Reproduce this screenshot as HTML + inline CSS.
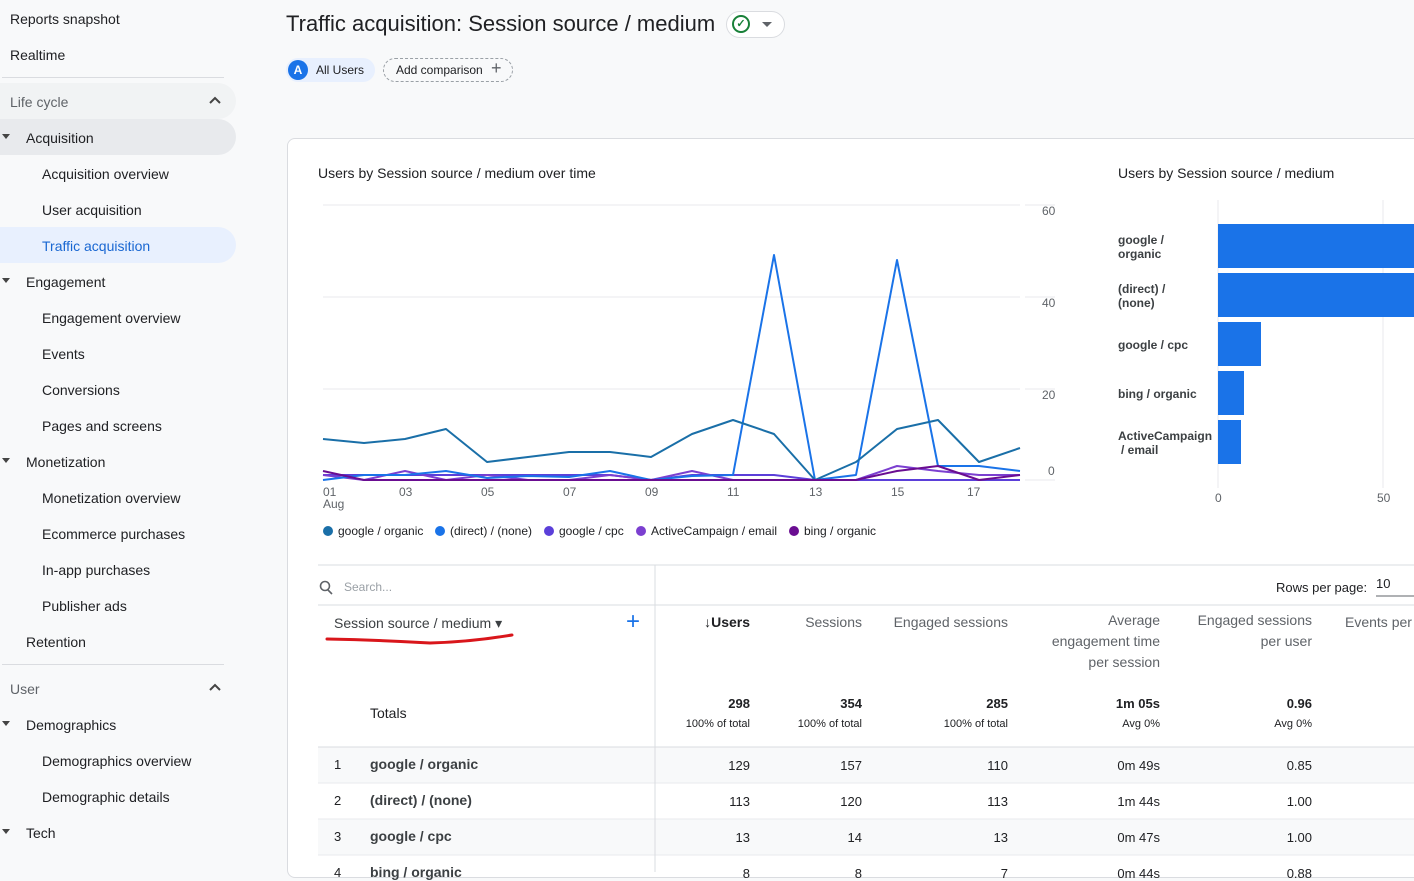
<!DOCTYPE html>
<html><head><meta charset="utf-8"><style>
*{margin:0;padding:0;box-sizing:border-box}
body{width:1414px;height:872px;overflow:hidden;background:#f8f9fa;font-family:"Liberation Sans",sans-serif;color:#202124;position:relative}
.a{position:absolute;white-space:nowrap}
.side{position:absolute;left:0;top:0;width:240px;height:872px;background:transparent}
.si{position:absolute;font-size:14px;color:#202124}
.tri{position:absolute;width:0;height:0;border-left:4px solid transparent;border-right:4px solid transparent;border-top:5px solid #444}
.card{position:absolute;left:287px;top:138px;width:1140px;height:740px;background:#fff;border:1px solid #dadce0;border-radius:8px}
.th{font-size:14px;color:#5f6368;text-align:right;line-height:21px}
.num{font-size:13px;text-align:right}
.sub{font-size:11px;text-align:right;color:#202124}
</style></head><body>
<div class="side">
<div class="si" style="left:10px;top:11px">Reports snapshot</div>
<div class="si" style="left:10px;top:47px">Realtime</div>
<div class="a" style="left:2px;top:77px;width:222px;height:1px;background:#dadce0"></div>
<div class="a" style="left:0;top:83px;width:236px;height:36px;background:#f1f3f4;border-radius:0 18px 18px 0"></div>
<div class="si" style="left:10px;top:94px;color:#5f6368">Life cycle</div>
<svg class="a" style="left:208px;top:95px" width="14" height="10"><polyline points="2,8 7,3 12,8" fill="none" stroke="#444" stroke-width="2"/></svg>
<div class="a" style="left:0;top:119px;width:236px;height:36px;background:#e8eaed;border-radius:0 18px 18px 0"></div>
<div class="tri" style="left:2px;top:134px"></div>
<div class="si" style="left:26px;top:130px">Acquisition</div>
<div class="si" style="left:42px;top:166px">Acquisition overview</div>
<div class="si" style="left:42px;top:202px">User acquisition</div>
<div class="a" style="left:0;top:227px;width:236px;height:36px;background:#e8f0fe;border-radius:0 18px 18px 0"></div>
<div class="si" style="left:42px;top:238px;color:#1967d2">Traffic acquisition</div>
<div class="tri" style="left:2px;top:278px"></div>
<div class="si" style="left:26px;top:274px">Engagement</div>
<div class="si" style="left:42px;top:310px">Engagement overview</div>
<div class="si" style="left:42px;top:346px">Events</div>
<div class="si" style="left:42px;top:382px">Conversions</div>
<div class="si" style="left:42px;top:418px">Pages and screens</div>
<div class="tri" style="left:2px;top:458px"></div>
<div class="si" style="left:26px;top:454px">Monetization</div>
<div class="si" style="left:42px;top:490px">Monetization overview</div>
<div class="si" style="left:42px;top:526px">Ecommerce purchases</div>
<div class="si" style="left:42px;top:562px">In-app purchases</div>
<div class="si" style="left:42px;top:598px">Publisher ads</div>
<div class="si" style="left:26px;top:634px">Retention</div>
<div class="a" style="left:2px;top:664px;width:222px;height:1px;background:#dadce0"></div>
<div class="si" style="left:10px;top:681px;color:#5f6368">User</div>
<svg class="a" style="left:208px;top:682px" width="14" height="10"><polyline points="2,8 7,3 12,8" fill="none" stroke="#444" stroke-width="2"/></svg>
<div class="tri" style="left:2px;top:721px"></div>
<div class="si" style="left:26px;top:717px">Demographics</div>
<div class="si" style="left:42px;top:753px">Demographics overview</div>
<div class="si" style="left:42px;top:789px">Demographic details</div>
<div class="tri" style="left:2px;top:829px"></div>
<div class="si" style="left:26px;top:825px">Tech</div>
</div>

<div class="a" style="left:286px;top:11px;font-size:22px;color:#202124">Traffic acquisition: Session source / medium</div>
<div class="a" style="left:726px;top:11px;width:59px;height:27px;border:1px solid #dadce0;border-radius:14px;background:#fff"></div>
<div class="a" style="left:732px;top:15px;width:18px;height:18px;border:2px solid #188038;border-radius:50%;color:#188038;font-size:11px;text-align:center;line-height:14px;font-weight:bold">✓</div>
<div class="tri" style="left:762px;top:22px;border-top-color:#5f6368;border-left-width:5px;border-right-width:5px"></div>
<div class="a" style="left:286px;top:58px;width:89px;height:24px;background:#e8f0fe;border-radius:12px"></div>
<div class="a" style="left:288px;top:60px;width:20px;height:20px;border-radius:50%;background:#1a73e8;color:#fff;font-size:12px;font-weight:bold;text-align:center;line-height:20px">A</div>
<div class="a" style="left:316px;top:63px;font-size:12px">All Users</div>
<div class="a" style="left:383px;top:58px;width:130px;height:24px;border:1px dashed #9aa0a6;border-radius:12px"></div>
<div class="a" style="left:396px;top:63px;font-size:12px">Add comparison</div>
<div class="a" style="left:491px;top:58px;font-size:18px;color:#5f6368">+</div>

<div class="card"></div>
<div class="a" style="left:318px;top:165px;font-size:14px">Users by Session source / medium over time</div>
<div class="a" style="left:1118px;top:165px;font-size:14px">Users by Session source / medium</div>

<svg class="a" style="left:0;top:0" width="1414" height="872">
<g stroke="#e8eaed" stroke-width="1">
<line x1="323" y1="205" x2="1020" y2="205"/><line x1="323" y1="297" x2="1020" y2="297"/><line x1="323" y1="389" x2="1020" y2="389"/>
<line x1="1025" y1="205" x2="1055" y2="205"/><line x1="1025" y1="297" x2="1055" y2="297"/><line x1="1025" y1="389" x2="1055" y2="389"/><line x1="1025" y1="480" x2="1055" y2="480"/>
<line x1="1218" y1="200" x2="1218" y2="488"/><line x1="1383" y1="200" x2="1383" y2="488"/>
</g>
<g fill="#5f6368" font-size="12" font-family="Liberation Sans">
<text x="1042" y="215">60</text><text x="1042" y="307">40</text><text x="1042" y="399">20</text><text x="1048" y="475">0</text>
<text x="323" y="496">01</text><text x="323" y="508">Aug</text><text x="399" y="496">03</text><text x="481" y="496">05</text><text x="563" y="496">07</text><text x="645" y="496">09</text><text x="727" y="496">11</text><text x="809" y="496">13</text><text x="891" y="496">15</text><text x="967" y="496">17</text>
<text x="1215" y="502">0</text><text x="1377" y="502">50</text>
</g>
<g fill="none" stroke-width="2" stroke-linejoin="round">
<polyline stroke="#5b3fd9" points="323,475 364,475 405,475 446,475 487,475 528,475 569,475 610,475 651,480 692,475 733,475 774,475 815,480 856,480 897,480 938,480 979,480 1020,480"/>
<polyline stroke="#7b3fd0" points="323,475 364,480 405,471 446,480 487,475 528,480 569,480 610,475 651,480 692,471 733,480 774,480 815,480 856,480 897,466 938,471 979,475 1020,475"/>
<polyline stroke="#1a73e8" points="323,480 364,475 405,475 446,471 487,478 528,476 569,477 610,471 651,480 692,476 733,475 774,255 815,480 856,475 897,260 938,466 979,466 1020,471"/>
<polyline stroke="#1a6fa8" points="323,439 364,443 405,439 446,429 487,462 528,457 569,452 610,452 651,457 692,434 733,420 774,434 815,480 856,462 897,429 938,420 979,462 1020,448"/>
<polyline stroke="#6a0d91" points="323,471 364,480 405,480 446,480 487,480 528,480 569,480 610,480 651,480 692,480 733,480 774,480 815,480 856,480 897,471 938,466 979,480 1020,475"/>
</g>
<g fill="#1a73e8">
<rect x="1218" y="224" width="196" height="44"/><rect x="1218" y="273" width="196" height="44"/>
<rect x="1218" y="322" width="43" height="44"/><rect x="1218" y="371" width="26" height="44"/><rect x="1218" y="420" width="23" height="44"/>
</g>
<g font-family="Liberation Sans">
<circle cx="328" cy="531" r="5" fill="#1a6fa8"/><text x="338" y="535" font-size="12" fill="#202124">google / organic</text>
<circle cx="440" cy="531" r="5" fill="#1a73e8"/><text x="450" y="535" font-size="12" fill="#202124">(direct) / (none)</text>
<circle cx="549" cy="531" r="5" fill="#5b3fd9"/><text x="559" y="535" font-size="12" fill="#202124">google / cpc</text>
<circle cx="641" cy="531" r="5" fill="#7b3fd0"/><text x="651" y="535" font-size="12" fill="#202124">ActiveCampaign / email</text>
<circle cx="794" cy="531" r="5" fill="#6a0d91"/><text x="804" y="535" font-size="12" fill="#202124">bing / organic</text>
</g>
<g font-size="12" font-family="Liberation Sans" fill="#3c4043" font-weight="bold">
<text x="1118" y="244">google /</text><text x="1118" y="258">organic</text>
<text x="1118" y="293">(direct) /</text><text x="1118" y="307">(none)</text>
<text x="1118" y="349">google / cpc</text>
<text x="1118" y="398">bing / organic</text>
<text x="1118" y="440">ActiveCampaign</text><text x="1121" y="454">/ email</text>
</g>
<line x1="318" y1="565" x2="1414" y2="565" stroke="#dadce0"/>
<line x1="318" y1="605" x2="1414" y2="605" stroke="#dadce0"/>
<rect x="318" y="747" width="1096" height="36" fill="#f8f9fa"/>
<rect x="318" y="819" width="1096" height="36" fill="#f8f9fa"/>
<line x1="318" y1="747" x2="1414" y2="747" stroke="#dadce0"/>
<line x1="318" y1="783" x2="1414" y2="783" stroke="#e8eaed"/>
<line x1="318" y1="819" x2="1414" y2="819" stroke="#e8eaed"/>
<line x1="318" y1="855" x2="1414" y2="855" stroke="#e8eaed"/>
<line x1="655" y1="565" x2="655" y2="872" stroke="#dadce0"/>
<path d="M327,639 Q380,640 430,643 Q470,642 512,635" stroke="#d9161b" stroke-width="3" fill="none" stroke-linecap="round"/>
<circle cx="325" cy="586" r="4.5" stroke="#5f6368" stroke-width="1.6" fill="none"/><line x1="328" y1="590" x2="332" y2="594" stroke="#5f6368" stroke-width="1.6"/>
<line x1="1376" y1="596" x2="1414" y2="596" stroke="#5f6368"/>
</svg>
<div class="a" style="left:344px;top:580px;font-size:12px;color:#9aa0a6">Search...</div>
<div class="a" style="left:1276px;top:580px;font-size:13px">Rows per page:</div>
<div class="a" style="left:1376px;top:576px;font-size:13px">10</div>
<div class="a" style="left:334px;top:615px;font-size:14px;color:#3c4043">Session source / medium ▾</div>
<div class="a" style="left:626px;top:608px;font-size:24px;color:#1a73e8;font-weight:300">+</div>
<div class="a th" style="left:650px;width:100px;top:612px;color:#202124;font-weight:bold">↓Users</div>
<div class="a th" style="left:760px;width:102px;top:612px">Sessions</div>
<div class="a th" style="left:870px;width:138px;top:612px">Engaged sessions</div>
<div class="a th" style="left:1020px;width:140px;top:610px">Average<br>engagement time<br>per session</div>
<div class="a th" style="left:1170px;width:142px;top:610px">Engaged sessions<br>per user</div>
<div class="a th" style="left:1345px;top:612px;text-align:left">Events per</div>
<div class="a" style="left:370px;top:705px;font-size:14px">Totals</div>
<div class="a num" style="left:650px;width:100px;top:696px;font-weight:bold">298</div><div class="a sub" style="left:650px;width:100px;top:718px">100% of total</div>
<div class="a num" style="left:760px;width:102px;top:696px;font-weight:bold">354</div><div class="a sub" style="left:760px;width:102px;top:718px">100% of total</div>
<div class="a num" style="left:870px;width:138px;top:696px;font-weight:bold">285</div><div class="a sub" style="left:870px;width:138px;top:718px">100% of total</div>
<div class="a num" style="left:1020px;width:140px;top:696px;font-weight:bold">1m 05s</div><div class="a sub" style="left:1020px;width:140px;top:718px">Avg 0%</div>
<div class="a num" style="left:1170px;width:142px;top:696px;font-weight:bold">0.96</div><div class="a sub" style="left:1170px;width:142px;top:718px">Avg 0%</div>

<div class="a" style="left:334px;top:757px;font-size:13px">1</div><div class="a" style="left:370px;top:756px;font-size:14px;font-weight:bold;color:#3c4043">google / organic</div>
<div class="a num" style="left:650px;width:100px;top:758px">129</div><div class="a num" style="left:760px;width:102px;top:758px">157</div><div class="a num" style="left:870px;width:138px;top:758px">110</div><div class="a num" style="left:1020px;width:140px;top:758px">0m 49s</div><div class="a num" style="left:1170px;width:142px;top:758px">0.85</div>
<div class="a" style="left:334px;top:793px;font-size:13px">2</div><div class="a" style="left:370px;top:792px;font-size:14px;font-weight:bold;color:#3c4043">(direct) / (none)</div>
<div class="a num" style="left:650px;width:100px;top:794px">113</div><div class="a num" style="left:760px;width:102px;top:794px">120</div><div class="a num" style="left:870px;width:138px;top:794px">113</div><div class="a num" style="left:1020px;width:140px;top:794px">1m 44s</div><div class="a num" style="left:1170px;width:142px;top:794px">1.00</div>
<div class="a" style="left:334px;top:829px;font-size:13px">3</div><div class="a" style="left:370px;top:828px;font-size:14px;font-weight:bold;color:#3c4043">google / cpc</div>
<div class="a num" style="left:650px;width:100px;top:830px">13</div><div class="a num" style="left:760px;width:102px;top:830px">14</div><div class="a num" style="left:870px;width:138px;top:830px">13</div><div class="a num" style="left:1020px;width:140px;top:830px">0m 47s</div><div class="a num" style="left:1170px;width:142px;top:830px">1.00</div>
<div class="a" style="left:334px;top:865px;font-size:13px">4</div><div class="a" style="left:370px;top:864px;font-size:14px;font-weight:bold;color:#3c4043">bing / organic</div>
<div class="a num" style="left:650px;width:100px;top:866px">8</div><div class="a num" style="left:760px;width:102px;top:866px">8</div><div class="a num" style="left:870px;width:138px;top:866px">7</div><div class="a num" style="left:1020px;width:140px;top:866px">0m 44s</div><div class="a num" style="left:1170px;width:142px;top:866px">0.88</div>
</body></html>
